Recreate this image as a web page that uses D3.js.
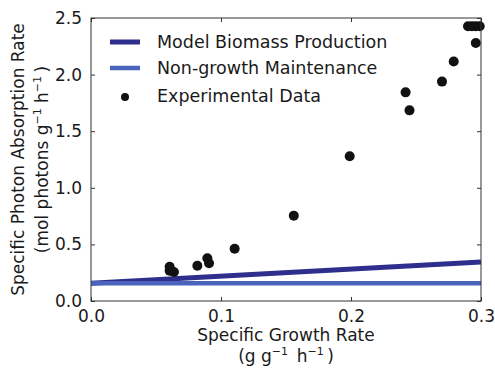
<!DOCTYPE html>
<html>
<head>
<meta charset="utf-8">
<script src="https://cdn.jsdelivr.net/npm/d3@7"></script>
<style>
  html, body { margin: 0; padding: 0; background: #fff; }
  svg { display: block; }
  text { font-family: "DejaVu Sans", sans-serif; fill: #1a1a1a; }
</style>
</head>
<body>
<svg id="chart" width="495" height="369"></svg>
<script>
// Measured photon absorption vs growth rate
const growthRate = [0.0605, 0.0605, 0.0638, 0.0818, 0.0895, 0.0908, 0.1105, 0.156, 0.199,
                    0.242, 0.245, 0.270, 0.279, 0.296, 0.290, 0.293, 0.296, 0.299];
const photonRate = [0.303, 0.268, 0.256, 0.312, 0.377, 0.333, 0.462, 0.754, 1.278,
                    1.843, 1.684, 1.938, 2.115, 2.279, 2.427, 2.427, 2.427, 2.427];

// Model lines (endpoints over the growth-rate domain)
const modelGrowth = [0.0, 0.3];
const modelBiomass = [0.156, 0.345];
const maintenance = [0.156, 0.156];

const xTicks = [0.0, 0.1, 0.2, 0.3];
const yTicks = [0.0, 0.5, 1.0, 1.5, 2.0, 2.5];

const legendLabels = ["Model Biomass Production", "Non-growth Maintenance", "Experimental Data"];
const colors = { model: "#2e2f8c", maint: "#4a63bc", dot: "#111111" };

const svg = d3.select("#chart");
const m = { left: 91, right: 481, top: 18, bottom: 301 };

const x = d3.scaleLinear().domain([0, 0.3]).range([m.left, m.right]);
const y = d3.scaleLinear().domain([0, 2.5]).range([m.bottom, m.top]);

// Lines
const line = d3.line().x(d => x(d[0])).y(d => y(d[1]));
svg.append("path")
  .attr("d", line(modelGrowth.map((g, i) => [g, modelBiomass[i]])))
  .attr("stroke", colors.model).attr("stroke-width", 5).attr("fill", "none");
svg.append("path")
  .attr("d", line(modelGrowth.map((g, i) => [g, maintenance[i]])))
  .attr("stroke", colors.maint).attr("stroke-width", 4.5).attr("fill", "none");

// Data points
svg.append("g").selectAll("circle")
  .data(growthRate.map((g, i) => [g, photonRate[i]]))
  .join("circle")
  .attr("cx", d => x(d[0])).attr("cy", d => y(d[1]))
  .attr("r", 5).attr("fill", colors.dot);

// Axes with inward ticks on all four sides
const fmt = d3.format(".1f");
const tickLen = 4;
function styleAxis(g) {
  g.select(".domain").remove();
  g.selectAll(".tick line").attr("stroke", "#333");
  g.selectAll(".tick text").style("font-size", "17px").attr("fill", "#1a1a1a");
}
svg.append("g").attr("transform", `translate(0,${m.bottom})`)
  .call(d3.axisBottom(x).tickValues(xTicks).tickFormat(fmt).tickSizeInner(-tickLen).tickSizeOuter(0).tickPadding(9))
  .call(styleAxis);
svg.append("g").attr("transform", `translate(0,${m.top})`)
  .call(d3.axisTop(x).tickValues(xTicks).tickFormat("").tickSizeInner(-tickLen).tickSizeOuter(0))
  .call(styleAxis);
svg.append("g").attr("transform", `translate(${m.left},0)`)
  .call(d3.axisLeft(y).tickValues(yTicks).tickFormat(fmt).tickSizeInner(-tickLen).tickSizeOuter(0).tickPadding(9))
  .call(styleAxis);
svg.append("g").attr("transform", `translate(${m.right},0)`)
  .call(d3.axisRight(y).tickValues(yTicks).tickFormat("").tickSizeInner(-tickLen).tickSizeOuter(0))
  .call(styleAxis);

// Frame
svg.append("rect")
  .attr("x", m.left).attr("y", m.top)
  .attr("width", m.right - m.left).attr("height", m.bottom - m.top)
  .attr("fill", "none").attr("stroke", "#333").attr("stroke-width", 1);

// Axis titles with superscript exponents
function unitLabel(sel, parts) {
  parts.forEach(p => {
    if (p.sup) {
      sel.append("tspan").text(p.t).style("font-size", "11px").attr("dy", -7);
    } else {
      sel.append("tspan").text(p.t).attr("dy", p.after ? 7 : 0);
    }
  });
}
const cx = (m.left + m.right) / 2;
svg.append("text").attr("x", cx).attr("y", 341).attr("text-anchor", "middle")
  .style("font-size", "17px").text("Specific Growth Rate");
const xu = svg.append("text").attr("x", cx).attr("y", 362).attr("text-anchor", "middle")
  .style("font-size", "17px");
unitLabel(xu, [{t: "(g g"}, {t: "\u22121", sup: true}, {t: "\u2009 h", after: true}, {t: "\u22121", sup: true}, {t: "\u2009)", after: true}]);

const cy = (m.top + m.bottom) / 2;
svg.append("text").attr("transform", `translate(24,${cy}) rotate(-90)`).attr("text-anchor", "middle")
  .style("font-size", "17px").text("Specific Photon Absorption Rate");
const yu = svg.append("text").attr("transform", `translate(48,${cy}) rotate(-90)`).attr("text-anchor", "middle")
  .style("font-size", "17px");
unitLabel(yu, [{t: "(mol photons g"}, {t: "\u22121", sup: true}, {t: " h", after: true}, {t: "\u22121", sup: true}, {t: "\u2009)", after: true}]);

// Legend
const legendRows = [42, 68, 96];
const lg = svg.append("g");
lg.append("line").attr("x1", 110).attr("x2", 140).attr("y1", legendRows[0]).attr("y2", legendRows[0])
  .attr("stroke", colors.model).attr("stroke-width", 5);
lg.append("line").attr("x1", 110).attr("x2", 140).attr("y1", legendRows[1]).attr("y2", legendRows[1])
  .attr("stroke", colors.maint).attr("stroke-width", 4.5);
lg.append("circle").attr("cx", 125).attr("cy", legendRows[2] + 1).attr("r", 4).attr("fill", colors.dot);
legendLabels.forEach((t, i) => {
  lg.append("text").attr("x", 157).attr("y", legendRows[i]).attr("dominant-baseline", "central")
    .style("font-size", "17.5px").text(t);
});
</script>
</body>
</html>
